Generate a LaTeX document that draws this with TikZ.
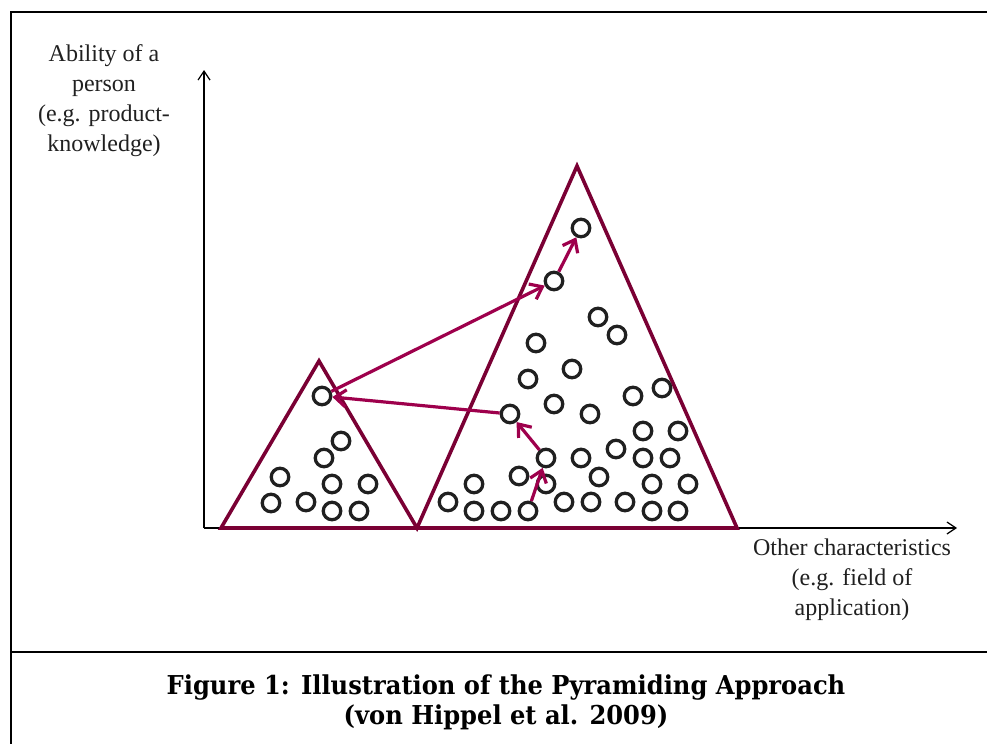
\documentclass[tikz,border=0pt]{standalone}
\usepackage{fontspec}
\setmainfont{Liberation Serif}
\newfontfamily\capfont[FakeStretch=0.93]{DejaVu Serif}
\usetikzlibrary{arrows.meta}
\definecolor{tricol}{RGB}{122,0,52}
\definecolor{arrcol}{RGB}{158,0,76}
\definecolor{ink}{RGB}{32,32,32}
\begin{document}
\begin{tikzpicture}[x=1pt,y=-1pt,
  dot/.style={circle,draw=ink,line width=3.3pt,minimum size=17.5pt,inner sep=0pt},
  tri/.style={draw=tricol,line width=3.6pt,line join=miter},
  flow/.style={draw=arrcol,line width=3.2pt,-{Straight Barb[length=11pt,width=17pt]}},
  axis/.style={draw=black,line width=1.2pt,-{Straight Barb[length=9pt,width=12pt]}},
  lbl/.style={font=\fontsize{24}{30}\selectfont,text=ink,align=center,inner sep=0pt},
  captext/.style={font=\capfont\bfseries\fontsize{26}{30}\selectfont,text=black,align=center,inner sep=0pt},
  framestyle/.style={draw=black,line width=2.6pt}]
\useasboundingbox (0,0) rectangle (987,744);
% frame
\draw[framestyle] (987,12) -- (11,12) -- (11,744);
\draw[framestyle] (11,652) -- (987,652);
% axes
\coordinate (o) at (204,528);
\coordinate (ytip) at (204,70);
\coordinate (xtip) at (957,528);
\draw[axis] (o) -- (ytip);
\draw[axis] (o) -- (xtip);
% triangles
\coordinate (s1) at (221,528);
\coordinate (s2) at (319,361);
\coordinate (s3) at (417,528);
\coordinate (b2) at (577,166);
\coordinate (b3) at (737,528);
\draw[tri] (s1) -- (s2) -- (s3) -- (b2) -- (b3) -- cycle;
\draw[tri] (s3) -- (s1);
% small pyramid dots
\node[dot] (a1) at (322,396) {};
\node[dot] at (341,441) {};
\node[dot] at (324,458) {};
\node[dot] at (280,477) {};
\node[dot] at (332,484) {};
\node[dot] at (368,484) {};
\node[dot] at (271,503) {};
\node[dot] at (306,502) {};
\node[dot] at (332,511) {};
\node[dot] at (359,511) {};
% large pyramid dots
\node[dot] (p5) at (581,228) {};
\node[dot] (p4) at (554,281) {};
\node[dot] at (598,317) {};
\node[dot] at (617,335) {};
\node[dot] at (536,343) {};
\node[dot] at (572,369) {};
\node[dot] at (528,379) {};
\node[dot] at (662,388) {};
\node[dot] at (633,396) {};
\node[dot] at (554,404) {};
\node[dot] (p3) at (510,414) {};
\node[dot] at (590,414) {};
\node[dot] at (643,431) {};
\node[dot] at (678,431) {};
\node[dot] at (616,449) {};
\node[dot] (p2) at (546,458) {};
\node[dot] at (581,458) {};
\node[dot] at (643,458) {};
\node[dot] at (670,458) {};
\node[dot] at (519,476) {};
\node[dot] at (599,477) {};
\node[dot] at (474,484) {};
\node[dot] at (546,484) {};
\node[dot] at (652,484) {};
\node[dot] at (688,484) {};
\node[dot] at (448,502) {};
\node[dot] at (564,502) {};
\node[dot] at (591,502) {};
\node[dot] at (625,502) {};
\node[dot] at (474,511) {};
\node[dot] at (501,511) {};
\node[dot] (p1) at (528,511) {};
\node[dot] at (652,511) {};
\node[dot] at (678,511) {};
% arrows
\draw[flow] (p1) -- (p2);
\draw[flow] (p2) -- (p3);
\draw[flow] (p3) -- (a1);
\draw[flow] (a1) -- (p4);
\draw[flow] (p4) -- (p5);
% labels
\node[lbl] (ylab) at (104,101) {Ability of a\\person\\(e.g. product-\\knowledge)};
\node[lbl] (xlab) at (852,580) {Other characteristics\\(e.g. field of\\application)};
\node[captext] (caption) at (506,702) {Figure 1: Illustration of the Pyramiding Approach\\(von Hippel et al. 2009)};
\end{tikzpicture}
\end{document}
